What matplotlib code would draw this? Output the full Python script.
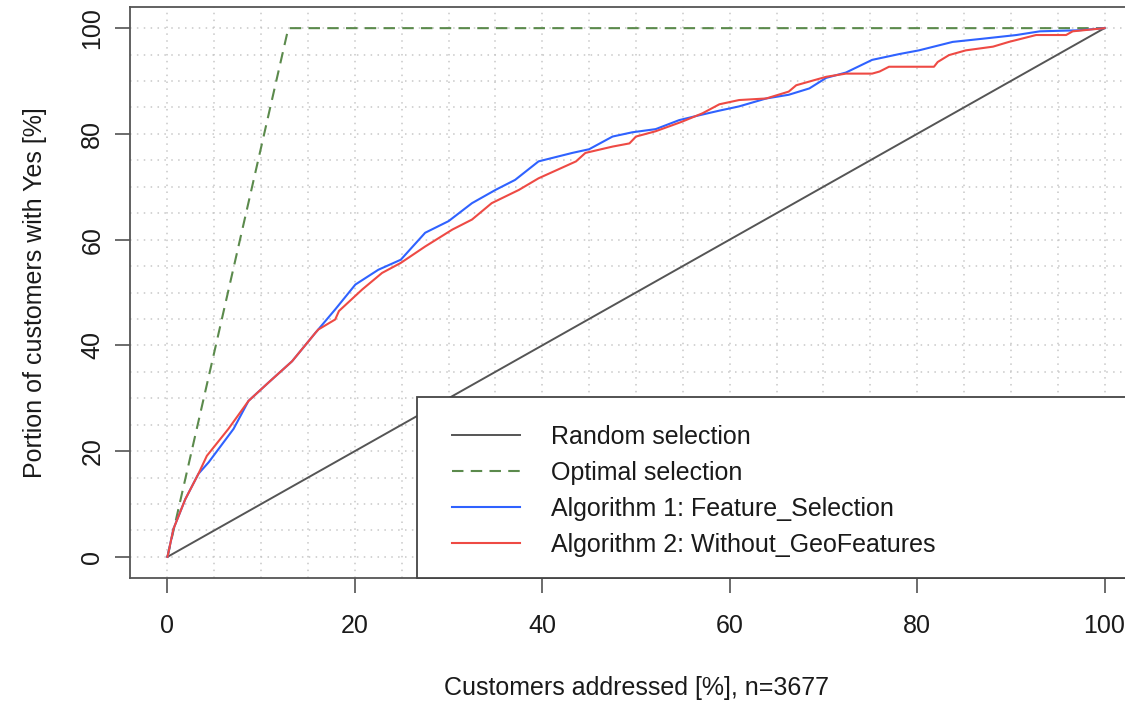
import numpy as np
import matplotlib
matplotlib.use("Agg")
import matplotlib.pyplot as plt
from matplotlib.patches import Rectangle

plt.rcParams['font.family'] = ['Liberation Sans', 'DejaVu Sans']

# ---- data ----
random_x = [0, 100]
random_y = [0, 100]
optimal_x = [0, 12.9, 100]
optimal_y = [0, 100, 100]

alg1_x = [0, 0.64, 1.9, 3.3, 4.4, 7.05, 8.65, 10.8, 13.3, 15.8, 17.9, 20.05, 22.5, 24.9,
          27.5, 30.0, 32.5, 35.0, 37.1, 39.6, 43.2, 45.0, 47.5, 49.6, 52.1, 54.6, 56.7,
          58.9, 61.0, 63.9, 66.3, 68.5, 70.3, 72.4, 75.2, 78.1, 80.2, 83.8, 87.0, 90.6,
          93.1, 97.3, 100]
alg1_y = [0, 5.3, 10.9, 15.7, 17.9, 24.2, 29.5, 33.0, 37.0, 42.4, 46.8, 51.5, 54.3, 56.2,
          61.3, 63.5, 66.9, 69.4, 71.3, 74.8, 76.4, 77.1, 79.5, 80.3, 80.9, 82.6, 83.5,
          84.4, 85.2, 86.7, 87.4, 88.6, 90.6, 91.6, 94.0, 95.1, 95.8, 97.4, 98.0, 98.7,
          99.4, 99.6, 100]

alg2_x = [0, 0.64, 1.9, 3.3, 4.2, 6.5, 8.65, 10.8, 13.3, 15.8, 16.1, 17.9, 18.3, 20.8,
          22.9, 24.9, 27.5, 30.4, 32.5, 34.6, 37.5, 39.6, 43.6, 44.6, 47.5, 49.3, 50.0,
          52.1, 54.9, 57.1, 58.9, 61.0, 63.9, 66.3, 67.1, 68.5, 70.3, 72.4, 75.2, 76.0,
          77.0, 81.8, 82.2, 83.4, 85.2, 88.1, 89.8, 92.7, 95.9, 96.6, 100]
alg2_y = [0, 5.3, 10.9, 15.7, 19.1, 24.2, 29.5, 33.0, 37.0, 42.4, 43.0, 44.9, 46.5, 50.6,
          53.7, 55.6, 58.7, 61.9, 63.8, 66.9, 69.4, 71.6, 74.8, 76.4, 77.6, 78.2, 79.5,
          80.5, 82.3, 83.9, 85.6, 86.4, 86.7, 88.0, 89.2, 89.9, 90.8, 91.4, 91.4, 91.8,
          92.7, 92.7, 93.6, 94.9, 95.8, 96.5, 97.4, 98.7, 98.7, 99.4, 100]

labels = ["Random selection", "Optimal selection",
          "Algorithm 1: Feature_Selection", "Algorithm 2: Without_GeoFeatures"]
ticks = [0, 20, 40, 60, 80, 100]
xlabel = "Customers addressed [%], n=3677"
ylabel = "Portion of customers with Yes [%]"

# ---- figure ----
fig = plt.figure(figsize=(11.25, 7.01), dpi=100)
ax = fig.add_axes([130/1125, 123/701, 1012/1125, 571/701])
ax.set_xlim(-4, 104)
ax.set_ylim(-4, 104)

grid_pos = np.arange(0, 101, 5)
ax.set_xticks(grid_pos, minor=True)
ax.set_yticks(grid_pos, minor=True)
ax.set_xticks(ticks)
ax.set_yticks(ticks)
ax.grid(True, which='both', linestyle=(0, (1, 3.5)), color='#c8c8c8', linewidth=1.1)
ax.set_axisbelow(True)
ax.tick_params(which='minor', length=0)
ax.tick_params(which='major', length=11, width=1.1, color='#444444',
               labelsize=18, labelcolor='#1a1a1a')
ax.tick_params(axis='x', pad=15)
ax.tick_params(axis='y', pad=7.5, labelrotation=90)
for lab in ax.get_yticklabels():
    lab.set_va('center')

for s in ax.spines.values():
    s.set_color('#555555')
    s.set_linewidth(1.3)

l0, = ax.plot(random_x, random_y, color='#555555', lw=1.4, zorder=3)
l1, = ax.plot(optimal_x, optimal_y, color='#5b8a4c', lw=1.5, ls=(0, (5.5, 3.5)), zorder=3)
l2, = ax.plot(alg1_x, alg1_y, color='#2f62ff', lw=1.5, zorder=4)
l3, = ax.plot(alg2_x, alg2_y, color='#ee4a44', lw=1.5, zorder=4)

ax.set_xlabel(xlabel, fontsize=18, color='#1a1a1a', labelpad=27)
ax.set_ylabel(ylabel, fontsize=18, color='#1a1a1a', labelpad=24)

# legend box (bottom-right, touching plot region)
rect = Rectangle((26.6, -4), 104 - 26.6, 30.2 + 4, facecolor='white',
                 edgecolor='#444444', lw=1.3, zorder=5, clip_on=False)
ax.add_patch(rect)
leg = ax.legend([l0, l1, l2, l3], labels, loc='upper left',
                bbox_to_anchor=(452/1125, (701-425)/701), bbox_transform=fig.transFigure,
                frameon=False, fontsize=18, borderpad=0, borderaxespad=0,
                handlelength=2.72, handletextpad=1.24, labelspacing=0.48)
leg.set_zorder(6)
for t in leg.get_texts():
    t.set_color('#1a1a1a')

fig.savefig('out.png', dpi=100)
